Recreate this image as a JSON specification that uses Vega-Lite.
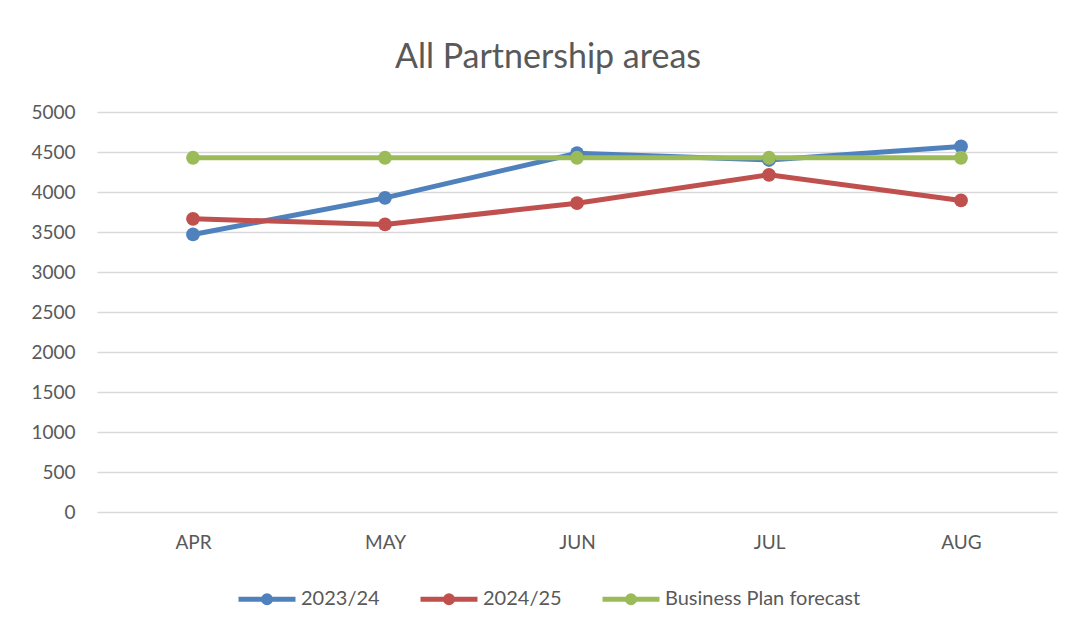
{
  "$schema": "https://vega.github.io/schema/vega-lite/v6.json",
  "autosize": "none",
  "width": 960,
  "height": 400,
  "padding": {"left": 97, "top": 112, "right": 19, "bottom": 114},
  "background": "white",
  "title": {
    "text": "All Partnership areas",
    "font": "Lato",
    "fontSize": 34,
    "fontWeight": "normal",
    "color": "#595959",
    "anchor": "middle",
    "offset": 28,
    "dx": -29
  },
  "data": {
    "values": [
      {"month": "APR", "series": "2023/24", "value": 3469},
      {"month": "MAY", "series": "2023/24", "value": 3927},
      {"month": "JUN", "series": "2023/24", "value": 4485},
      {"month": "JUL", "series": "2023/24", "value": 4400},
      {"month": "AUG", "series": "2023/24", "value": 4569},
      {"month": "APR", "series": "2024/25", "value": 3665},
      {"month": "MAY", "series": "2024/25", "value": 3594},
      {"month": "JUN", "series": "2024/25", "value": 3860},
      {"month": "JUL", "series": "2024/25", "value": 4215},
      {"month": "AUG", "series": "2024/25", "value": 3894},
      {"month": "APR", "series": "Business Plan forecast", "value": 4428},
      {"month": "MAY", "series": "Business Plan forecast", "value": 4428},
      {"month": "JUN", "series": "Business Plan forecast", "value": 4428},
      {"month": "JUL", "series": "Business Plan forecast", "value": 4428},
      {"month": "AUG", "series": "Business Plan forecast", "value": 4428}
    ]
  },
  "mark": {"type": "line", "strokeWidth": 5, "point": {"size": 190, "filled": true, "opacity": 1}},
  "encoding": {
    "x": {
      "field": "month",
      "type": "ordinal",
      "sort": ["APR", "MAY", "JUN", "JUL", "AUG"],
      "scale": {"type": "point", "padding": 0.5},
      "axis": {
        "title": null,
        "labelAngle": 0,
        "ticks": false,
        "domain": false,
        "grid": false,
        "labelFont": "Lato",
        "labelFontSize": 19,
        "labelColor": "#595959",
        "labelPadding": 21
      }
    },
    "y": {
      "field": "value",
      "type": "quantitative",
      "scale": {"domain": [0, 5000], "nice": false},
      "axis": {
        "title": null,
        "format": "d",
        "values": [0, 500, 1000, 1500, 2000, 2500, 3000, 3500, 4000, 4500, 5000],
        "ticks": false,
        "domain": false,
        "grid": true,
        "gridColor": "#d9d9d9",
        "gridWidth": 1.5,
        "labelFont": "Lato",
        "labelFontSize": 19,
        "labelColor": "#595959",
        "labelPadding": 22
      }
    },
    "color": {
      "field": "series",
      "type": "nominal",
      "scale": {
        "domain": ["2023/24", "2024/25", "Business Plan forecast"],
        "range": ["#4f81bd", "#c0504d", "#9bbb59"]
      },
      "legend": {
        "title": null,
        "orient": "none",
        "direction": "horizontal",
        "legendX": 139,
        "legendY": 456,
        "symbolType": "M-1,0H1M-0.12,0A0.12,0.12 0 1,1 0.12,0A0.12,0.12 0 1,1 -0.12,0",
        "symbolSize": 3249,
        "symbolStrokeWidth": 5,
        "labelFont": "Lato",
        "labelFontSize": 20,
        "labelColor": "#595959",
        "labelOffset": 3,
        "labelLimit": 0,
        "columnPadding": 30
      }
    }
  },
  "config": {"view": {"stroke": null}}
}
